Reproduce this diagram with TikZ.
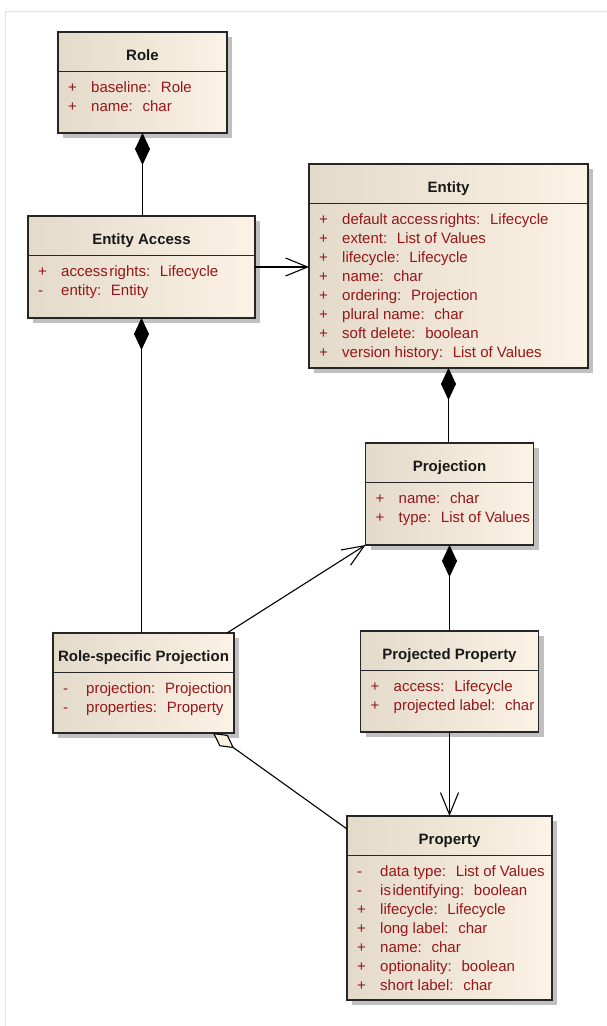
\documentclass[tikz,border=0pt]{standalone}
\usepackage{fontspec}
\setmainfont{Liberation Sans}
\usetikzlibrary{arrows.meta}

\definecolor{attrred}{RGB}{150,22,24}
\definecolor{boxleft}{RGB}{228,218,202}
\definecolor{boxright}{RGB}{252,242,229}
\definecolor{shadowgray}{RGB}{192,192,192}
\definecolor{framegray}{RGB}{226,226,226}
\definecolor{aggfill}{RGB}{250,240,226}

\tikzset{
  classbox/.style={draw=black!85, line width=1.3pt, left color=boxleft, right color=boxright,
    inner sep=0pt, outer sep=0pt},
  classline/.style={draw=black!85, line width=1.1pt},
  classtitle/.style={font=\fontsize{15}{17}\selectfont\bfseries, text=black!90, inner sep=0pt},
  attr/.style={font=\fontsize{15}{19}\selectfont, text=attrred, inner sep=0pt},
  link/.style={line width=1.1pt, black},
  composition/.style={link, -{Diamond[length=32pt,width=15pt]}},
  aggregation/.style={link, -{Diamond[length=26pt,width=14pt,fill=aggfill]}},
  navigable/.style={link, -{Straight Barb[length=22pt,width=18pt]}},
}

% \umlclass{name}{x}{y}{width}{height}{title}{visibility/attribute list}
\newcommand\umlclass[7]{%
  \fill[shadowgray] (#2+5,#3+5) rectangle ++(#4,#5);
  \node[classbox, minimum width=#4pt, minimum height=#5pt, anchor=north west] (#1) at (#2,#3) {};
  \draw[classline] (#2,#3+39.5) -- ++(#4,0);
  \node[classtitle, anchor=base] at (#2+#4/2,#3+28.5) {#6};
  \foreach \avis/\atext [count=\ai] in {#7} {
    \node[attr, anchor=base west] at (#2+10,#3+60.5+19*\ai-19) {\avis};
    \node[attr, anchor=base west] at (#2+33,#3+60.5+19*\ai-19) {\atext};
  }%
}

\begin{document}
\begin{tikzpicture}[x=1pt, y=-1pt]
  \useasboundingbox (0,0) rectangle (607,1026);
  \fill[white] (0,0) rectangle (607,1026);
  \draw[framegray, line width=1pt] (5,1026) -- (5,11) -- (607,11);

  \umlclass{role}{58}{32}{169}{101}{Role}{
    +/baseline:~ Role,
    +/name:~ char}
  \umlclass{ea}{28}{216}{227}{102}{Entity Access}{
    +/access\hspace{0.1em}rights:~ Lifecycle,
    -/entity:~ Entity}
  \umlclass{entity}{309}{164}{279}{204}{Entity}{
    +/default access\hspace{0.1em}rights:~ Lifecycle,
    +/extent:~ List of Values,
    +/lifecycle:~ Lifecycle,
    +/name:~ char,
    +/ordering:~ Projection,
    +/plural name:~ char,
    +/soft delete:~ boolean,
    +/version history:~ List of Values}
  \umlclass{proj}{365.5}{443}{168}{102}{Projection}{
    +/name:~ char,
    +/type:~ List of Values}
  \umlclass{rsp}{53}{633}{181}{100}{Role-specific Projection}{
    -/projection:~ Projection,
    -/properties:~ Property}
  \umlclass{pp}{360.5}{631}{178}{101}{Projected Property}{
    +/access:~ Lifecycle,
    +/projected label:~ char}
  \umlclass{prop}{347}{816}{205}{184}{Property}{
    -/data type:~ List of Values,
    -/is\hspace{0.1em}identifying:~ boolean,
    +/lifecycle:~ Lifecycle,
    +/long label:~ char,
    +/name:~ char,
    +/optionality:~ boolean,
    +/short label:~ char}

  % associations
  \draw[composition] (ea.north -| role.south) -- (role.south);
  \draw[composition] (rsp.north -| ea.south) -- (ea.south);
  \draw[navigable] (ea.east) -- (ea.east -| entity.west);
  \draw[composition] (proj.north -| entity.south) -- (entity.south);
  \draw[composition] (pp.north -| proj.south) -- (proj.south);
  \draw[navigable] (pp.south) -- (pp.south |- prop.north);
  \draw[navigable] ([xshift=-7pt]rsp.north east) -- (proj.south west);
  \draw[aggregation] ([yshift=-13pt]prop.north west) -- ([xshift=-21pt]rsp.south east);
\end{tikzpicture}
\end{document}
